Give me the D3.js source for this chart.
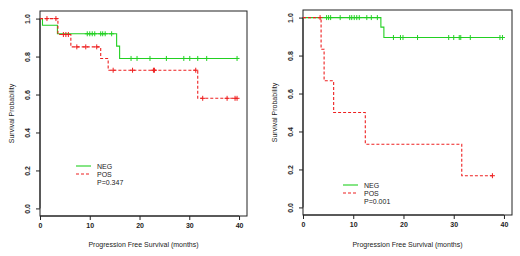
<!DOCTYPE html>
<html>
<head>
<meta charset="utf-8">
<script src="https://cdn.jsdelivr.net/npm/d3@7"></script>
<style>
  body { margin: 0; background: #fff; }
  svg { display: block; font-family: "Liberation Sans", Arial, sans-serif; }
</style>
</head>
<body>
<svg id="chart" width="520" height="256"></svg>
<script>
// x / y ticks
const xTicks = [0, 10, 20, 30, 40]
const yTicks = [0, 0.2, 0.4, 0.6, 0.8, 1.0]
const groups = ["NEG", "POS"]

// left panel
const leftNegTimes = [0, 0.5, 3.5, 15.4, 16.0]
const leftNegSurv = [1, 0.965, 0.92, 0.855, 0.79]
const leftNegCensor = [9.5, 10.0, 10.5, 11.0, 12.2, 12.6, 13.1, 14.4, 18.3, 19.5, 22.1, 25.4, 28.9, 30.1, 31.7, 33.5, 39.6]
const leftNegEnd = 39.6
const leftPosTimes = [0, 3.6, 6.2, 12.2, 13.7, 31.7]
const leftPosSurv = [1, 0.916, 0.851, 0.79, 0.728, 0.58]
const leftPosCensor = [1.4, 3.2, 4.7, 5.2, 5.7, 7.4, 9.2, 11.4, 14.7, 18.6, 22.8, 23.0, 31.3, 32.7, 37.6, 39.2, 39.6]
const leftPosEnd = 39.6
const leftP = "P=0.347"

// right panel
const rightNegTimes = [0, 15.5, 16.1]
const rightNegSurv = [1, 0.95, 0.895]
const rightNegCensor = [4.7, 5.1, 5.5, 7.4, 9.3, 9.7, 10.2, 10.7, 11.2, 12.7, 13.6, 14.8,
  18.0, 19.4, 19.9, 22.8, 29.0, 30.0, 31.1, 31.4, 33.3, 39.2, 39.7]
const rightNegEnd = 39.7
const rightPosTimes = [0, 3.6, 4.2, 6.1, 12.4, 31.6]
const rightPosSurv = [1, 0.833, 0.667, 0.5, 0.333, 0.167]
const rightPosCensor = [3.4, 37.7]
const rightPosEnd = 37.7
const rightP = "P=0.001"

const green = "#22d022"
const red = "#ee2020"

const svg = d3.select("#chart")

function stepPoints(times, surv, end) {
  let pts = []
  times.forEach((t, i) => {
    if (i > 0) pts.push([t, surv[i - 1]])
    pts.push([t, surv[i]])
  })
  pts.push([end, surv[surv.length - 1]])
  return pts
}

function survAt(times, surv, t) {
  let s = surv[0]
  times.forEach((tt, i) => { if (tt <= t) s = surv[i] })
  return s
}

function drawPanel(p) {
  const x = d3.scaleLinear().domain([0, 41.6]).range([p.left, p.right])
  const y = d3.scaleLinear().domain([-0.04, 1.04]).range([p.bottom, p.top])
  const g = svg.append("g")

  // box
  g.append("rect")
    .attr("x", p.left).attr("y", p.top)
    .attr("width", p.right - p.left).attr("height", p.bottom - p.top)
    .attr("fill", "none").attr("stroke", "#222").attr("stroke-width", 1)

  // axes
  const xAxis = g.append("g")
    .attr("transform", `translate(0,${p.bottom})`)
    .call(d3.axisBottom(x).tickValues(xTicks).tickSize(4).tickPadding(3).tickFormat(d3.format("d")))
  xAxis.select(".domain").attr("d", `M${x(0)},0H${x(40)}`).attr("stroke", "#222")
  xAxis.selectAll("text").attr("font-size", 7).attr("fill", "#222").attr("font-weight", "bold")
  xAxis.selectAll(".tick line").attr("stroke", "#222")

  const yAxis = g.append("g")
    .attr("transform", `translate(${p.left},0)`)
    .call(d3.axisLeft(y).tickValues(yTicks).tickSize(4).tickFormat(d3.format(".1f")))
  yAxis.select(".domain").attr("d", `M0,${y(0)}V${y(1)}`).attr("stroke", "#222")
  yAxis.selectAll(".tick line").attr("stroke", "#222")
  yAxis.selectAll("text")
    .attr("font-size", 7).attr("fill", "#222").attr("font-weight", "bold")
    .attr("text-anchor", "middle")
    .attr("x", 0).attr("dy", 0)
    .attr("transform", "translate(-10,0) rotate(-90)")

  // axis titles
  g.append("text")
    .attr("x", (p.left + p.right) / 2).attr("y", 247)
    .attr("text-anchor", "middle").attr("font-size", 7).attr("fill", "#222")
    .text("Progression Free Survival (months)")
  g.append("text")
    .attr("transform", `translate(${p.left - 26},${(p.top + p.bottom) / 2}) rotate(-90)`)
    .attr("text-anchor", "middle").attr("font-size", 7).attr("fill", "#222")
    .text("Survival Probability")

  const line = d3.line().x(d => x(d[0])).y(d => y(d[1]))

  p.curves.forEach(c => {
    g.append("path")
      .attr("d", line(stepPoints(c.times, c.surv, c.end)))
      .attr("fill", "none").attr("stroke", c.color).attr("stroke-width", 1.1)
      .attr("stroke-dasharray", c.dash)
    g.selectAll(null)
      .data(c.censor)
      .join("path")
      .attr("d", t => {
        const cx = x(t), cy = y(survAt(c.times, c.surv, t))
        return `M${cx - 2.5},${cy}H${cx + 2.5}M${cx},${cy - 2.5}V${cy + 2.5}`
      })
      .attr("stroke", c.color).attr("stroke-width", 1).attr("fill", "none")
  })

  // legend
  const leg = g.append("g")
  p.curves.forEach((c, i) => {
    leg.append("line")
      .attr("x1", p.legX).attr("x2", p.legX + 15)
      .attr("y1", p.legY + i * 8).attr("y2", p.legY + i * 8)
      .attr("stroke", c.color).attr("stroke-width", 1.1).attr("stroke-dasharray", c.dash)
    leg.append("text")
      .attr("x", p.legX + 21).attr("y", p.legY + i * 8 + 2.5)
      .attr("font-size", 7).attr("fill", "#222")
      .text(groups[i])
  })
  leg.append("text")
    .attr("x", p.legX + 21).attr("y", p.legY + 16 + 2.5)
    .attr("font-size", 7).attr("fill", "#222")
    .text(p.pText)
}

drawPanel({
  left: 40, right: 247, top: 11, bottom: 216,
  legX: 76, legY: 166, pText: leftP,
  curves: [
    { times: leftNegTimes, surv: leftNegSurv, censor: leftNegCensor, end: leftNegEnd, color: green, dash: null },
    { times: leftPosTimes, surv: leftPosSurv, censor: leftPosCensor, end: leftPosEnd, color: red, dash: "3,2" }
  ]
})

drawPanel({
  left: 303, right: 512, top: 10, bottom: 215,
  legX: 343, legY: 185, pText: rightP,
  curves: [
    { times: rightNegTimes, surv: rightNegSurv, censor: rightNegCensor, end: rightNegEnd, color: green, dash: null },
    { times: rightPosTimes, surv: rightPosSurv, censor: rightPosCensor, end: rightPosEnd, color: red, dash: "3,2" }
  ]
})
</script>
</body>
</html>
